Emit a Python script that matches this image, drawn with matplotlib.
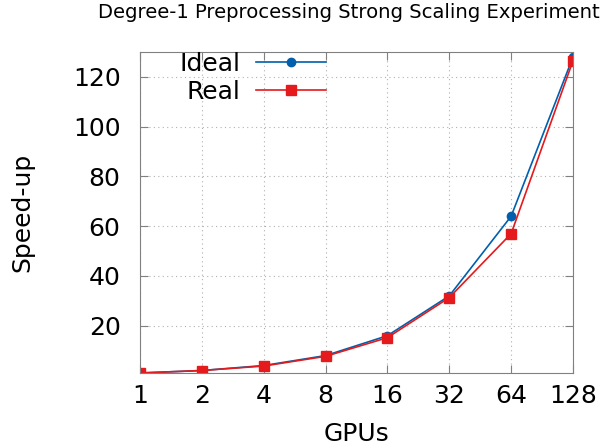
import matplotlib
matplotlib.use("Agg")
import matplotlib.pyplot as plt
import numpy as np

gpus = [1, 2, 4, 8, 16, 32, 64, 128]
ideal = [1, 2, 4, 8, 16, 32, 64, 128]
real = [1, 2, 3.8, 7.7, 15.2, 31.3, 57, 126.5]
yticks = [20, 40, 60, 80, 100, 120]

fig = plt.figure(figsize=(6.01, 4.46), dpi=100)
ax = fig.add_axes([140 / 601, 1 - 373 / 446, 433 / 601, 321 / 446])

x = np.log2(gpus)
ax.plot(x, ideal, color='#0060ad', lw=1.2, marker='o', ms=6, label='Ideal')
ax.plot(x, real, color='#e41a1c', lw=1.2, marker='s', ms=6.5, label='Real')

ax.set_xlim(0, 7)
ax.set_ylim(1, 130)
ax.set_xticks(x)
ax.set_xticklabels([str(g) for g in gpus])
ax.set_yticks(yticks)
ax.tick_params(direction='in', top=True, right=True, labelsize=18, length=6,
               color='#808080')
ax.tick_params(axis='y', pad=14)
ax.tick_params(axis='x', pad=8)
for s in ax.spines.values():
    s.set_color('#808080')
ax.grid(True, linestyle=(0, (1, 3)), color='#b0b0b0', lw=0.8)

fig.text(349 / 601, 1 - 13 / 446, 'Degree-1 Preprocessing Strong Scaling Experiment',
         fontsize=14.1, ha='center', va='center')
ax.set_xlabel('GPUs', fontsize=18, labelpad=10)
ax.set_ylabel('Speed-up', fontsize=18, labelpad=28)

ax.legend(loc='upper left', bbox_to_anchor=(0.04, 1.07), frameon=False, markerfirst=False,
          fontsize=18, handlelength=2.8, labelspacing=0.15, handletextpad=0.6)

fig.savefig('out.png', dpi=100)
